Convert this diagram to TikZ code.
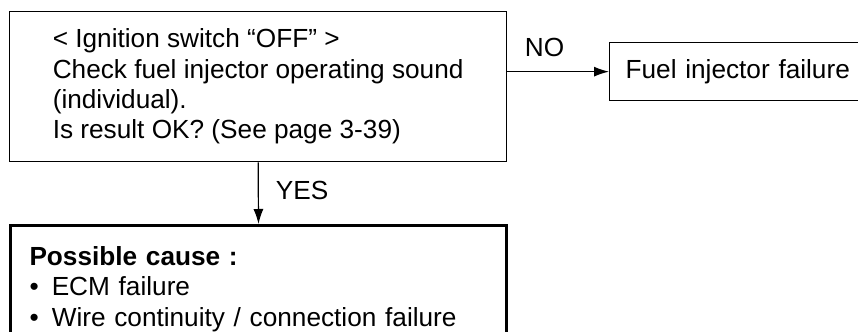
\documentclass[tikz,border=0pt]{standalone}
\usepackage{fontspec}
\setmainfont{Liberation Sans}
\usetikzlibrary{arrows.meta}

\begin{document}
\begin{tikzpicture}[x=0.5pt, y=-0.5pt,
        every node/.style={font=\fontsize{13.1}{15.15}\selectfont},
        box/.style={draw, line width=0.65pt, rectangle, align=left, anchor=north west},
        flow/.style={line width=0.6pt, -{Latex[length=7.5pt, width=5pt]}}]

        % Frame of the picture
        \useasboundingbox (0,0) rectangle (858,332);
        \clip (0,0) rectangle (858,332);

        % Define top-left corners of the boxes
        \coordinate (C1) at (9, 11);     % Check box
        \coordinate (C2) at (609, 42);   % Failure box
        \coordinate (C3) at (9, 224);    % Cause box

        % Draw boxes
        \node[box, minimum width=248.5pt, minimum height=75pt] (check) at (C1)
            {< Ignition switch “OFF” >\\
             Check fuel injector operating sound\\
             (individual).\\
             Is result OK? (See page 3-39)};
        \node[box, text width=180pt, inner xsep=8pt, minimum height=29pt] (fail) at (C2)
            {Fuel injector failure};
        \node[box, line width=1.5pt, text width=229pt, inner xsep=9.5pt, inner ysep=10.5pt] (cause) at (C3)
            {\textbf{Possible cause :}\\
             \textbullet\enspace ECM failure\\
             \textbullet\enspace Wire continuity / connection failure};

        % Draw arrows with answers
        \draw[flow] (check.east |- fail.west) -- (fail.west)
            node[pos=0, anchor=south west, inner xsep=8.5pt, inner ysep=7pt] (no) {NO};
        \draw[flow] (check.south) -- (cause.north)
            node[pos=0.45, right, inner xsep=8.5pt] (yes) {YES};
    \end{tikzpicture}
\end{document}
